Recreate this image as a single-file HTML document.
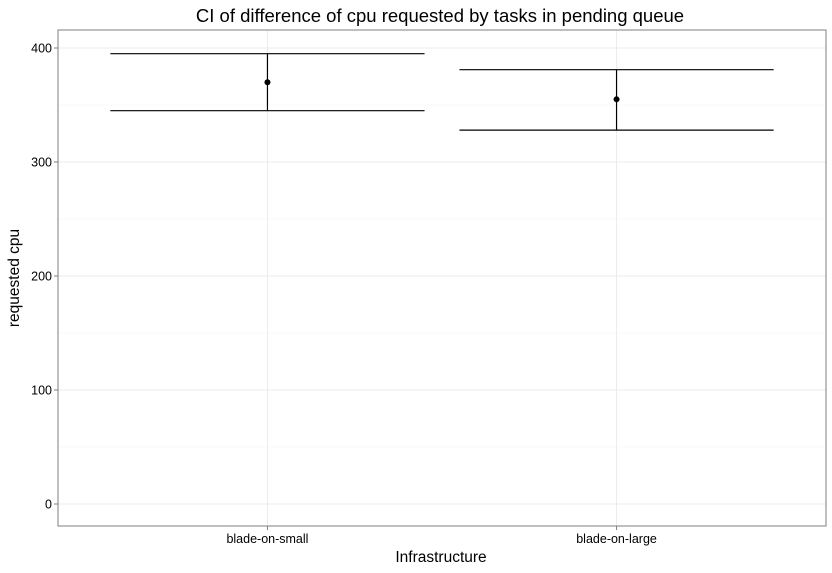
<!DOCTYPE html>
<html><head><meta charset="utf-8"><style>
html,body{margin:0;padding:0;background:#fff;}
svg{display:block;font-family:"Liberation Sans",Arial,sans-serif;}
</style></head><body>
<svg id="chart" width="832" height="573"></svg>
<script>
const categories = ["blade-on-small","blade-on-large"];
const means = [370, 355];
const lowers = [345, 328];
const uppers = [395, 381];
const yTicks = [0,100,200,300,400];

const NS="http://www.w3.org/2000/svg";
const svg=document.getElementById('chart');
const P={l:58,r:826,t:30,b:526};
const yMin=-19.3, yMax=415.8;
function y(v){return P.b-(v-yMin)/(yMax-yMin)*(P.b-P.t);}
const xMin=0.4, xMax=categories.length+0.6;
const unit=(P.r-P.l)/(xMax-xMin);
function x(i){return P.l+(i+1-xMin)*unit;}
function el(tag,attrs,parent){const e=document.createElementNS(NS,tag);for(const k in attrs)e.setAttribute(k,attrs[k]);(parent||svg).appendChild(e);return e;}

const grid=el('g',{});


for(let i=0;i<yTicks.length-1;i++){const v=(yTicks[i]+yTicks[i+1])/2;
 el('line',{x1:P.l,x2:P.r,y1:y(v),y2:y(v),stroke:'#f3f3f3','stroke-width':0.6},grid);}
yTicks.forEach(v=>{el('line',{x1:P.l,x2:P.r,y1:y(v),y2:y(v),stroke:'#ebebeb','stroke-width':1},grid);});
categories.forEach((c,i)=>{el('line',{x1:x(i),x2:x(i),y1:P.t,y2:P.b,stroke:'#ebebeb','stroke-width':1},grid);});

const hw=unit*0.45;
categories.forEach((c,i)=>{
 const g=el('g',{});
 
 
 el('line',{x1:x(i)-hw,x2:x(i)+hw,y1:y(uppers[i]),y2:y(uppers[i]),stroke:'#000','stroke-width':1.2},g);
 el('line',{x1:x(i)-hw,x2:x(i)+hw,y1:y(lowers[i]),y2:y(lowers[i]),stroke:'#000','stroke-width':1.2},g);
 el('line',{x1:x(i),x2:x(i),y1:y(uppers[i]),y2:y(lowers[i]),stroke:'#000','stroke-width':1.2},g);
 const p=el('circle',{cx:x(i),cy:y(means[i]),r:3,fill:'#000'},g);
 
 
});

const border=el('rect',{x:P.l,y:P.t,width:P.r-P.l,height:P.b-P.t,fill:'none',stroke:'#7f7f7f','stroke-width':1});



yTicks.forEach(v=>{
 el('line',{x1:P.l-4,x2:P.l,y1:y(v),y2:y(v),stroke:'#7f7f7f'});
 const t=el('text',{x:P.l-6,y:y(v)+4.5,'text-anchor':'end','font-size':12.5,fill:'#000'});
 t.textContent=v;
 
 
});
categories.forEach((c,i)=>{
 el('line',{x1:x(i),x2:x(i),y1:P.b,y2:P.b+4,stroke:'#7f7f7f'});
 const t=el('text',{x:x(i),y:P.b+17,'text-anchor':'middle','font-size':12.5,fill:'#000'});
 t.textContent=c;
 
 
});
</script>
<svg style="position:absolute;left:0;top:0" width="832" height="573">
<text x="440" y="22" text-anchor="middle" font-size="18.5" font-family="Liberation Sans, Arial, sans-serif">CI of difference of cpu requested by tasks in pending queue</text>
<text x="441" y="562" text-anchor="middle" font-size="15.5" font-family="Liberation Sans, Arial, sans-serif">Infrastructure</text>
<text x="19" y="278" text-anchor="middle" font-size="15.5" font-family="Liberation Sans, Arial, sans-serif" transform="rotate(-90 19 278)">requested cpu</text>
</svg>
</body></html>
